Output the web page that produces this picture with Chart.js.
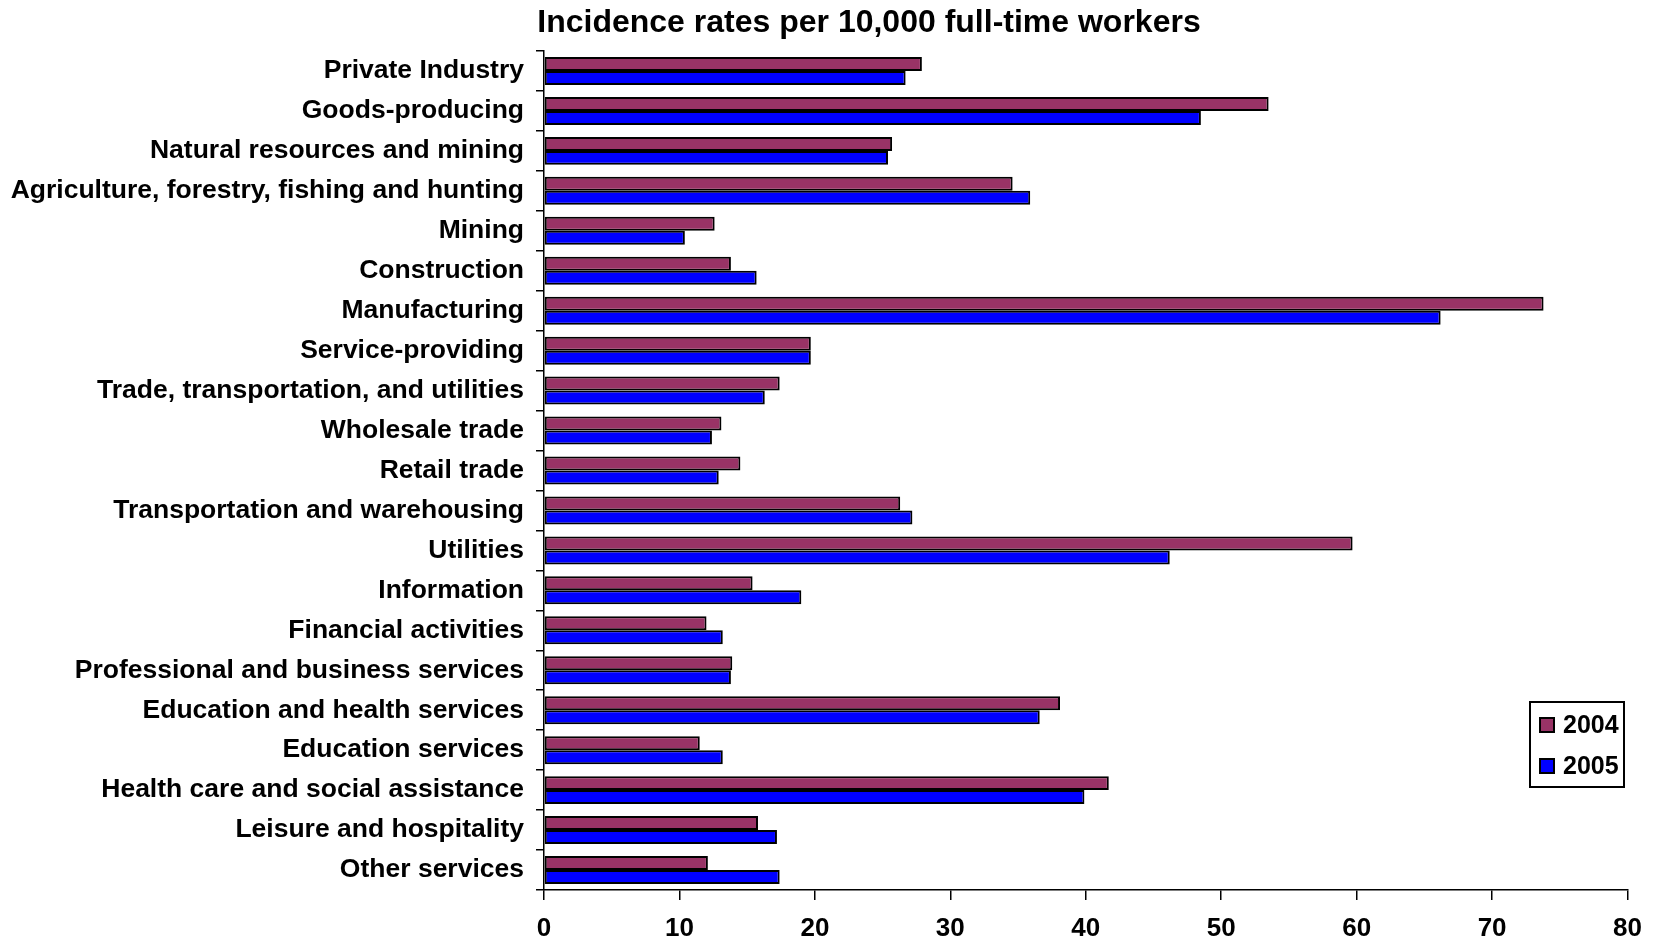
<!DOCTYPE html>
<html>
<head>
<meta charset="utf-8">
<title>Incidence rates</title>
<script src="https://cdn.jsdelivr.net/npm/chart.js@4.4.1/dist/chart.umd.min.js"></script>
<style>
  body { margin: 0; background: #fff; }
  #wrap { width: 1655px; height: 941px; position: relative; }
</style>
</head>
<body>
<div id="wrap"><canvas id="rates_chart"></canvas></div>
<script>
// industries, top to bottom
const industries = [
  'Private Industry',
  'Goods-producing',
  'Natural resources and mining',
  'Agriculture, forestry, fishing and hunting',
  'Mining',
  'Construction',
  'Manufacturing',
  'Service-providing',
  'Trade, transportation, and utilities',
  'Wholesale trade',
  'Retail trade',
  'Transportation and warehousing',
  'Utilities',
  'Information',
  'Financial activities',
  'Professional and business services',
  'Education and health services',
  'Education services',
  'Health care and social assistance',
  'Leisure and hospitality',
  'Other services'
];

const rates2004 = [27.9, 53.5, 25.7, 34.6, 12.6, 13.8, 73.8, 19.7, 17.4, 13.1, 14.5,
                   26.3, 59.7, 15.4, 12.0, 13.9, 38.1, 11.5, 41.7, 15.8, 12.1];
const rates2005 = [26.7, 48.5, 25.4, 35.9, 10.4, 15.7, 66.2, 19.7, 16.3, 12.4, 12.9,
                   27.2, 46.2, 19.0, 13.2, 13.8, 36.6, 13.2, 39.9, 17.2, 17.4];

const seriesNames = ['2004', '2005'];
const titleText = 'Incidence rates per 10,000 full-time workers';

const boldFont = (size) => ({ family: '"Liberation Sans", Arial, sans-serif', size: size, weight: 'bold' });

// title drawn off-centre like the original
const titlePlugin = {
  id: 'titlePlugin',
  afterDraw(chart) {
    const ctx = chart.ctx;
    ctx.save();
    ctx.fillStyle = '#000';
    ctx.font = 'bold 32px "Liberation Sans", Arial, sans-serif';
    ctx.textAlign = 'center';
    ctx.textBaseline = 'middle';
    ctx.fillText(titleText, 869, 23);
    ctx.restore();
  }
};

// boxed legend in the lower right
const boxLegend = {
  id: 'boxLegend',
  afterDraw(chart) {
    const ctx = chart.ctx;
    const x = 1530, y = 702, w = 94, h = 85;
    ctx.save();
    ctx.fillStyle = '#fff';
    ctx.fillRect(x, y, w, h);
    ctx.strokeStyle = '#000';
    ctx.lineWidth = 2;
    ctx.strokeRect(x, y, w, h);
    ctx.font = 'bold 25px "Liberation Sans", Arial, sans-serif';
    ctx.textBaseline = 'middle';
    chart.data.datasets.forEach((ds, i) => {
      const cy = y + 23 + i * 41;
      ctx.fillStyle = ds.backgroundColor;
      ctx.fillRect(x + 10, cy - 7, 14, 14);
      ctx.lineWidth = 2;
      ctx.strokeRect(x + 10, cy - 7, 14, 14);
      ctx.fillStyle = '#000';
      ctx.fillText(ds.label, x + 33, cy + 1);
    });
    ctx.restore();
  }
};

new Chart(document.getElementById('rates_chart'), {
  type: 'bar',
  data: {
    labels: industries,
    datasets: [
      {
        label: seriesNames[0],
        data: rates2004,
        backgroundColor: '#993366',
        borderColor: '#000',
        borderWidth: 2,
        borderSkipped: false
      },
      {
        label: seriesNames[1],
        data: rates2005,
        backgroundColor: '#0000FF',
        borderColor: '#000',
        borderWidth: 2,
        borderSkipped: false
      }
    ]
  },
  options: {
    indexAxis: 'y',
    responsive: true,
    maintainAspectRatio: false,
    animation: false,
    categoryPercentage: 0.7,
    barPercentage: 1.0,
    layout: { padding: { top: 51, right: 21, left: 0, bottom: 0 } },
    plugins: {
      legend: { display: false },
      title: { display: false },
      tooltip: { enabled: false }
    },
    scales: {
      x: {
        min: 0,
        max: 80,
        ticks: { stepSize: 10, color: '#000', font: boldFont(26), padding: 13, maxRotation: 0 },
        grid: { drawOnChartArea: false, color: '#000', lineWidth: 1.5, tickLength: 10 },
        border: { color: '#000', width: 1.5 },
        afterFit(scale) { scale.height = 51; }
      },
      y: {
        ticks: { color: '#000', font: boldFont(26.5), padding: 12, autoSkip: false },
        grid: { drawOnChartArea: false, color: '#000', lineWidth: 1.5, tickLength: 8 },
        border: { color: '#000', width: 1.5 },
        afterFit(scale) { scale.width = 544; }
      }
    }
  },
  plugins: [titlePlugin, boxLegend]
});
</script>
</body>
</html>
